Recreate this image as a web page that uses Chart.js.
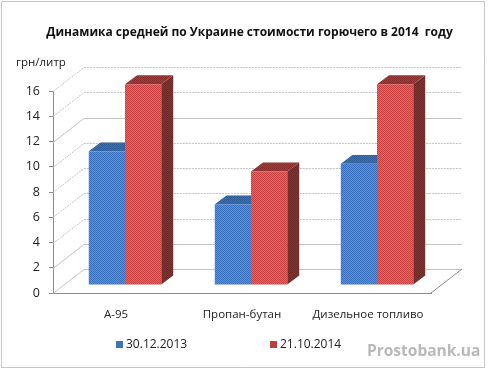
<!DOCTYPE html>
<html>
<head>
<meta charset="utf-8">
<script src="https://cdn.jsdelivr.net/npm/chart.js@4"></script>
<style>
  html, body { margin: 0; padding: 0; background: #fff; }
  #wrap { width: 489px; height: 374px; position: relative; }
</style>
</head>
<body>
<div id="wrap"><canvas id="fuelChart" width="489" height="374"></canvas></div>
<script>
const categories = ["А-95", "Пропан-бутан", "Дизельное топливо"];
const seriesNames = ["30.12.2013", "21.10.2014"];
const values2013 = [10.6, 6.4, 9.6];
const values2014 = [15.9, 9.0, 15.9];
const yTicks = [0, 2, 4, 6, 8, 10, 12, 14, 16];
const titleText = "Динамика средней по Украине стоимости горючего в 2014  году";
const unitText = "грн/литр";
const watermark = "Prostobank.ua";

const FONT = '"Open Sans", "Noto Sans", sans-serif';

// шахматный узор, как в исходной картинке с дизерингом
function checker(a, b) {
  const c = document.createElement("canvas");
  c.width = 2;
  c.height = 2;
  const g = c.getContext("2d");
  g.fillStyle = a;
  g.fillRect(0, 0, 2, 2);
  g.fillStyle = b;
  g.fillRect(0, 0, 1, 1);
  g.fillRect(1, 1, 1, 1);
  return g.createPattern(c, "repeat");
}

const ctx = document.getElementById("fuelChart").getContext("2d");
const blue = { front: checker("#3a72c0", "#5d8fd2"), top: checker("#2f5f9a", "#42719f"), side: "#2d5a8e", legend: "#3f74b5" };
const red = { front: checker("#c8403f", "#dc6a66"), top: checker("#8a2f2e", "#a03c3a"), side: checker("#6f2a28", "#84312f"), legend: "#b8403e" };

// псевдо-3D: смещение задней стенки и глубина столбцов
const wallDx = 31, wallDy = -24;
const barShiftX = 9, barShiftY = -8;
const barDx = 12, barDy = -9;

const wallPlugin = {
  id: "wall",
  beforeDatasetsDraw(chart) {
    const { ctx, chartArea: a, scales: { y } } = chart;
    ctx.save();
    ctx.strokeStyle = "#c4c4c4";
    ctx.lineWidth = 1;
    yTicks.forEach((t) => {
      const py = Math.round(y.getPixelForValue(t)) + 0.5;
      ctx.setLineDash(t === 0 || t === 2 || t === 12 ? [] : [2, 1]);
      ctx.beginPath();
      ctx.moveTo(a.left, py);
      ctx.lineTo(a.left + wallDx, py + wallDy);
      ctx.lineTo(a.right + wallDx, py + wallDy);
      ctx.stroke();
    });
    // правый край пола
    const py0 = y.getPixelForValue(0);
    ctx.setLineDash([]);
    ctx.strokeStyle = "#8a8a8a";
    ctx.beginPath();
    ctx.moveTo(a.right, py0);
    ctx.lineTo(a.right + wallDx, py0 + wallDy);
    ctx.stroke();
    ctx.restore();
    // столбцы рисуются со смещением вглубь
    ctx.save();
    ctx.translate(barShiftX, barShiftY);
  },
  afterDatasetsDraw(chart) {
    chart.ctx.restore();
  },
};

// боковая и верхняя грани столбца, вместе с лицевой
function drawFaces(chart, args) {
  const { ctx } = chart;
  const isBlue = args.index === 0;
  const colors = isBlue ? blue : red;
  args.meta.data.forEach((bar) => {
    const { x, y, base, width } = bar.getProps(["x", "y", "base", "width"], true);
    const l = x - width / 2, r = x + width / 2;
    ctx.save();
    if (isBlue) {
      // первый набор рисуется последним, а его грани должен закрывать красный столбец
      ctx.beginPath();
      ctx.rect(l, y + barDy, width, base - y - barDy);
      ctx.clip();
    }
    ctx.fillStyle = colors.side;
    ctx.beginPath();
    ctx.moveTo(r, y);
    ctx.lineTo(r + barDx, y + barDy);
    ctx.lineTo(r + barDx, base + barDy);
    ctx.lineTo(r, base);
    ctx.closePath();
    ctx.fill();
    ctx.fillStyle = colors.top;
    ctx.beginPath();
    ctx.moveTo(l, y);
    ctx.lineTo(l + barDx, y + barDy);
    ctx.lineTo(r + barDx, y + barDy);
    ctx.lineTo(r, y);
    ctx.closePath();
    ctx.fill();
    ctx.restore();
  });
}

const extrasPlugin = {
  id: "extras",
  beforeDatasetDraw: drawFaces,
  afterDraw(chart) {
    const { ctx } = chart;
    ctx.save();
    // пунктирная рамка всей диаграммы
    ctx.strokeStyle = "#8c8c8c";
    ctx.setLineDash([1, 1]);
    ctx.strokeRect(1.5, 1.5, 483, 366);
    ctx.setLineDash([]);
    ctx.textBaseline = "middle";
    // заголовок
    ctx.textAlign = "center";
    ctx.fillStyle = "#111";
    ctx.font = "bold 12px " + FONT;
    ctx.fillText(titleText, 249.5, 33);
    ctx.textAlign = "left";
    ctx.fillStyle = "#222";
    ctx.font = "11.5px " + FONT;
    ctx.fillText(unitText, 16, 63);
    // легенда
    ctx.font = "12px " + FONT;
    [[116, blue.legend, seriesNames[0]], [270, red.legend, seriesNames[1]]].forEach(([lx, col, name]) => {
      ctx.fillStyle = col;
      ctx.fillRect(lx, 341, 7, 7);
      ctx.fillStyle = "#222";
      ctx.fillText(name, lx + 10, 345);
    });
    ctx.fillStyle = "#b9b9b9";
    ctx.font = "bold 15.5px " + FONT;
    ctx.fillText(watermark, 367, 352);
    ctx.restore();
  },
};

new Chart(ctx, {
  type: "bar",
  data: {
    labels: categories,
    datasets: [
      { label: seriesNames[0], data: values2013, backgroundColor: blue.front, clip: false },
      { label: seriesNames[1], data: values2014, backgroundColor: red.front, clip: false },
    ],
  },
  options: {
    responsive: false,
    animation: false,
    layout: { padding: { top: 91, left: 0, right: 58, bottom: 41 } },
    datasets: { bar: { categoryPercentage: 0.575, barPercentage: 1 } },
    plugins: {
      title: { display: false },
      legend: { display: false },
      tooltip: { enabled: false },
    },
    scales: {
      x: {
        afterFit: (axis) => { axis.height = 40; },
        grid: { display: false, drawTicks: true, tickColor: "#8a8a8a", tickLength: 4 },
        border: { display: true, color: "#8a8a8a", dash: [2, 1] },
        ticks: { color: "#222", padding: 11, font: { family: FONT, size: 11.5 }, maxRotation: 0 },
      },
      y: {
        min: 0,
        max: 16,
        afterBuildTicks: (axis) => { axis.ticks = yTicks.map((v) => ({ value: v })); },
        afterFit: (axis) => { axis.width = 53; },
        grid: { drawOnChartArea: false, tickColor: "#8a8a8a", tickLength: 4 },
        border: { display: true, color: "#8a8a8a" },
        ticks: { color: "#222", padding: 9, autoSkip: false, font: { family: FONT, size: 12.5 } },
      },
    },
  },
  plugins: [wallPlugin, extrasPlugin],
});
</script>
</body>
</html>
